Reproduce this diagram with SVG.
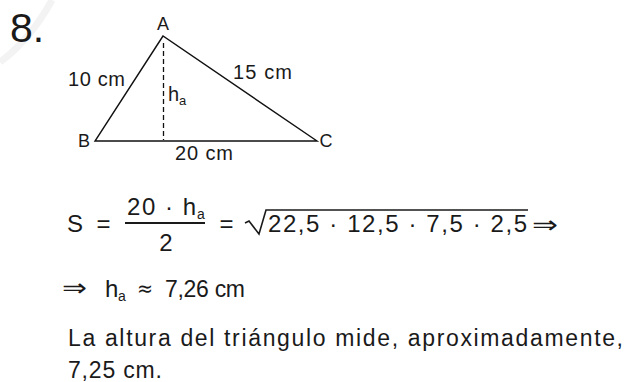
<svg xmlns="http://www.w3.org/2000/svg" width="637" height="382" viewBox="0 0 637 382">
<style>
.t{font-family:"Liberation Sans",Arial,sans-serif;fill:#1a1a1a}
.lbl{font-size:20px}
.f{font-size:24px}
.c{font-size:23px}
.sub{font-size:14px}
.edge{stroke:#111;stroke-width:1.4;fill:none}
</style>
<rect width="637" height="382" fill="#fff"/>
<path d="M52,0 Q30,40 0,62" stroke="#f3f3f3" stroke-width="7" fill="none"/>
<text class="t" x="10" y="42" font-size="41">8.</text>
<g id="connectors">
<path class="edge" d="M163,36 L95,141 L317,141 Z"/>
<line x1="163.5" y1="43" x2="163.5" y2="140" stroke="#111" stroke-width="1.3" stroke-dasharray="5,3"/>
</g>
<g id="nodeA"><text class="t" x="163" y="30" font-size="18" text-anchor="middle">A</text></g>
<g id="nodeB"><text class="t" x="84" y="147" font-size="18" text-anchor="middle">B</text></g>
<g id="nodeC"><text class="t" x="326" y="147" font-size="18" text-anchor="middle">C</text></g>
<g id="labels">
<text class="t lbl" x="68" y="86" textLength="57" lengthAdjust="spacing">10 cm</text>
<text class="t lbl" x="233" y="79" textLength="59" lengthAdjust="spacing">15 cm</text>
<text class="t lbl" x="175" y="160" textLength="58" lengthAdjust="spacing">20 cm</text>
<text class="t lbl" x="168" y="101">h</text>
<text class="t" x="179" y="105" font-size="13">a</text>
</g>
<g id="formula1">
<text class="t f" x="67" y="232">S</text>
<text class="t f" x="103.5" y="232" text-anchor="middle">=</text>
<text class="t f" x="127" y="215" textLength="69" lengthAdjust="spacing">20 · h</text>
<text class="t sub" x="197" y="219">a</text>
<line x1="125" y1="223" x2="205" y2="223" stroke="#1a1a1a" stroke-width="2"/>
<text class="t f" x="166" y="251" text-anchor="middle">2</text>
<text class="t f" x="226.5" y="232" text-anchor="middle">=</text>
<path d="M245,223 L249,221 L259,234 L266,210 H528" stroke="#1a1a1a" stroke-width="1.6" fill="none"/>
<text class="t f" x="268" y="232" textLength="259" lengthAdjust="spacing">22,5 · 12,5 · 7,5 · 2,5</text>
<text x="532" y="233" font-family="DejaVu Sans,sans-serif" font-size="24" fill="#1a1a1a" textLength="26" lengthAdjust="spacingAndGlyphs">⇒</text>
</g>
<g id="formula2">
<text x="62" y="296" font-family="DejaVu Sans,sans-serif" font-size="24" fill="#1a1a1a" textLength="25" lengthAdjust="spacingAndGlyphs">⇒</text>
<text class="t f" x="105" y="297">h</text>
<text class="t sub" x="118" y="301">a</text>
<text x="137" y="296" font-family="DejaVu Sans,sans-serif" font-size="22" fill="#1a1a1a" textLength="16" lengthAdjust="spacingAndGlyphs">≈</text>
<text class="t c" x="165" y="297" textLength="80" lengthAdjust="spacing">7,26 cm</text>
</g>
<g id="conclusion">
<text class="t c" x="68" y="346" textLength="555" lengthAdjust="spacing">La altura del triángulo mide, aproximadamente,</text>
<text class="t c" x="68" y="378" textLength="94" lengthAdjust="spacing">7,25 cm.</text>
</g>
</svg>
